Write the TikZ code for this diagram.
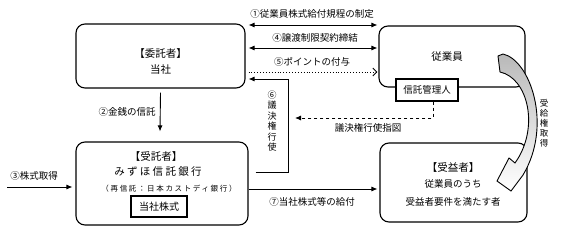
\documentclass[tikz,border=0pt]{standalone}
\usepackage{fontspec}
\setmainfont{Noto Sans CJK JP}
\newfontfamily\spaced[LetterSpace=22]{Noto Sans CJK JP}
\usetikzlibrary{arrows.meta,calc,positioning}

\tikzset{
  party/.style={draw, line width=1.1pt, rounded corners=9pt, inner sep=0pt},
  plain/.style={draw, line width=1.1pt, fill=white, inner sep=0pt, font=\fontsize{9.5}{11}\selectfont},
  flow/.style={line width=0.9pt, -{Latex[length=6pt,width=5pt]}},
  both/.style={line width=0.9pt, {Latex[length=6pt,width=5pt]}-{Latex[length=6pt,width=5pt]}},
  lbl/.style={inner sep=0pt, font=\fontsize{9.5}{11}\selectfont},
  vlbl/.style={inner sep=0pt, align=center, font=\fontsize{9}{10.5}\selectfont},
  ttl/.style={inner sep=0pt, align=center, font=\fontsize{10.5}{16}\selectfont}
}

\begin{document}
\begin{tikzpicture}[x=1pt, y=-1pt]
  \useasboundingbox (0,0) rectangle (567,230);

  % Boxes
  \node[party, minimum width=169pt, minimum height=64pt] (itaku) at (160.5,56) {};
  \node[party, minimum width=146pt, minimum height=61pt] (jugyo) at (452,56.5) {};
  \node[plain, minimum width=62pt, minimum height=22pt] (kanri) at (427,90) {信託管理人};
  \node[party, minimum width=172pt, minimum height=83pt] (jutaku) at (162,183.5) {};
  \node[plain, minimum width=56pt, minimum height=21pt, font=\fontsize{10}{11}\selectfont] (kabu) at (159,206.5) {当社株式};
  \node[party, minimum width=147pt, minimum height=79pt] (jueki) at (453.5,182.5) {};

  % Box texts
  \node[ttl] (itakutxt) at (160.5,61.5) {【委託者】\\当社};
  \node[ttl] (jugyotxt) at (447,57) {従業員};
  \node[ttl] (jutakutxt) at (156,157) {【受託者】};
  \node[ttl, font=\fontsize{10.5}{12}\spaced] (bank) at (158,172) {みずほ信託銀行};
  \node[ttl, font=\fontsize{7.5}{9}\spaced] (saishin) at (169,189) {（再信託：日本カストディ銀行）};
  \node[ttl] (juekitxt) at (453,168) {【受益者】};
  \node[lbl, align=center, font=\fontsize{9.5}{18}\selectfont] (juekiyoken) at (453,193) {従業員のうち\\受益者要件を満たす者};

  % Arrows between 委託者 and 従業員
  \draw[both] ($(itaku.east)+(3,-31)$) -- ($(jugyo.west)+(-1,-31.5)$);
  \node[lbl] (l1) at (312,14) {①従業員株式給付規程の制定};
  \draw[both] ($(itaku.east)+(3,-8)$) -- ($(jugyo.west)+(-1,-8.5)$);
  \node[lbl] (l4) at (315,38) {④譲渡制限契約締結};
  \draw[line width=0.9pt, dotted, -{Straight Barb[length=4pt,width=8pt]}] ($(itaku.east)+(3,16)$) -- ($(jugyo.west)+(-1,15.5)$);
  \node[lbl] (l5) at (312,62) {⑤ポイントの付与};

  % Voting
  \draw[flow] ($(jutaku.east)+(7,-11.5)$) -| (288,79) -- ($(itaku.east)+(3,23)$);
  \node[vlbl] (l6) at (272,121) {⑥\\議\\決\\権\\行\\使};
  \draw[flow, dashed] ($(kanri.south)+(6,0)$) |- (295,118);
  \node[lbl] (lsashizu) at (368,128) {議決権行使指図};

  % Trust, purchase and delivery
  \draw[flow] ($(itaku.south)+(0,4)$) -- ($(jutaku.north)+(-2,-10)$);
  \node[lbl] (l2) at (127,112) {②金銭の信託};
  \draw[flow] ($(jutaku.west)+(-68,3.5)$) -- ($(jutaku.west)+(-3,3.5)$);
  \node[lbl] (l3) at (34,176) {③株式取得};
  \draw[flow] ($(jutaku.east)+(0,5.5)$) -- ($(jueki.west)+(-2,6.5)$);
  \node[lbl] (l7) at (312,202) {⑦当社株式等の給付};

  % Curved block arrow
  \shade[top color=gray!55, bottom color=white, draw=black, line width=0.9pt, line join=miter]
    (498,56) -- (503,54) .. controls (530,60) and (553,125) .. (523,175)
    -- (511,191) -- (497,181) -- (509,158) -- (515,163)
    .. controls (540,128) and (528,78) .. (500,72) -- cycle;
  \node[vlbl, font=\fontsize{8.5}{10}\selectfont] (ljukyu) at (544,123) {受\\給\\権\\取\\得};
\end{tikzpicture}
\end{document}
